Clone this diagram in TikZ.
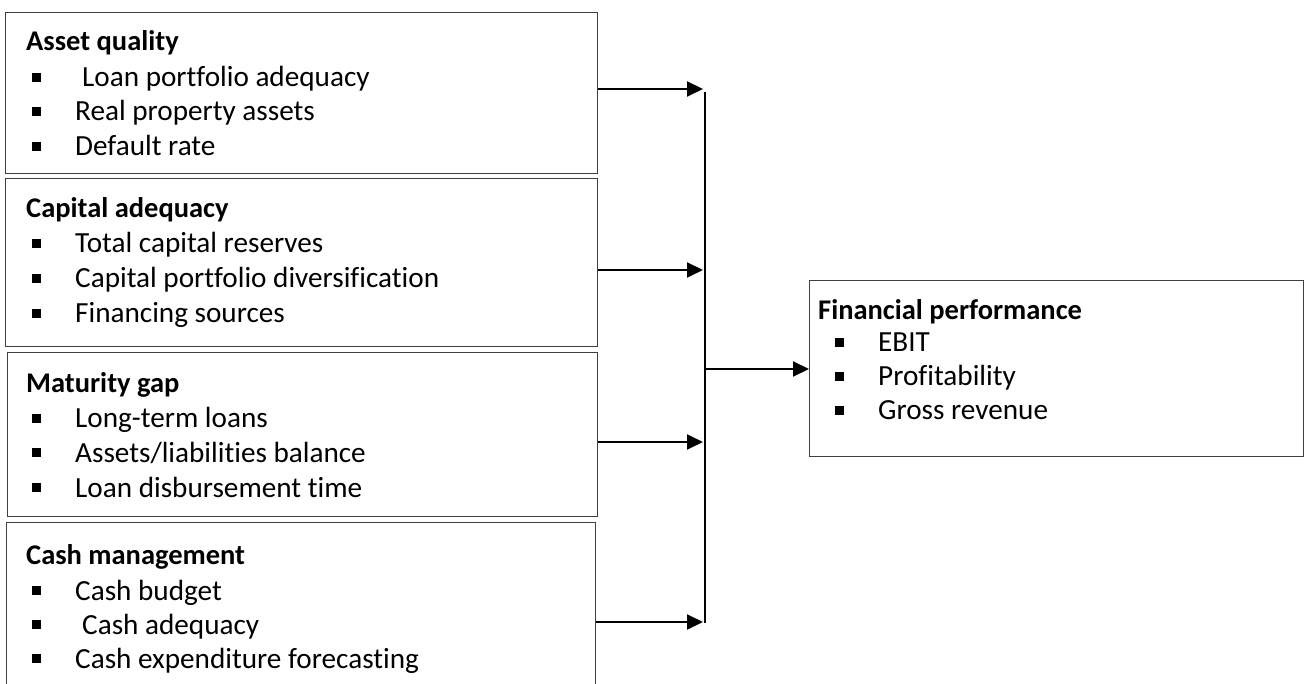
\documentclass[tikz,border=0pt]{standalone}
\usepackage{fontspec}
\setmainfont{Carlito}[Ligatures={NoCommon}]
\usetikzlibrary{arrows.meta}
\tikzset{
  box/.style={draw=black!75, line width=1pt, inner sep=0pt, anchor=north west, fill=white},
  ttl/.style={anchor=base west, inner sep=0pt, font=\bfseries\fontsize{28.5}{34}\selectfont},
  itm/.style={anchor=base west, inner sep=0pt, font=\fontsize{29.2}{34}\selectfont},
  conn/.style={line width=2pt, -{Triangle[length=16pt,width=15pt]}},
  bus/.style={line width=2pt},
}
\newcommand{\bsq}{\makebox[43pt][l]{\rule[5pt]{9pt}{9pt}}}
\begin{document}
\begin{tikzpicture}[x=1pt,y=-1pt]
\useasboundingbox (0,0) rectangle (1304,684);
\clip (0,0) rectangle (1304,684);
% boxes
\node[box, minimum width=592pt, minimum height=161pt] (b1) at (5,12) {};
\node[box, minimum width=592pt, minimum height=168pt] (b2) at (5,178) {};
\node[box, minimum width=590pt, minimum height=164pt] (b3) at (7,352) {};
\node[box, minimum width=589pt, minimum height=200pt] (b4) at (6,522) {};
\node[box, minimum width=494pt, minimum height=176pt] (fp) at (809,280) {};
% box 1
\node[ttl] (t1) at (26,51) {Asset quality};
\node[itm] (i11) at (32,87) {\bsq\hspace{7pt}Loan portfolio adequacy};
\node[itm] (i12) at (32,121) {\bsq Real property assets};
\node[itm] (i13) at (32,156) {\bsq Default rate};
% box 2
\node[ttl] (t2) at (26,218) {Capital adequacy};
\node[itm] (i21) at (32,253) {\bsq Total capital reserves};
\node[itm] (i22) at (32,288) {\bsq Capital portfolio diversification};
\node[itm] (i23) at (32,323) {\bsq Financing sources};
% box 3
\node[ttl] (t3) at (26,393) {Maturity gap};
\node[itm] (i31) at (32,428) {\bsq Long-term loans};
\node[itm] (i32) at (32,462) {\bsq Assets/liabilities balance};
\node[itm] (i33) at (32,497) {\bsq Loan disbursement time};
% box 4
\node[ttl] (t4) at (26,564) {Cash management};
\node[itm] (i41) at (32,600) {\bsq Cash budget};
\node[itm] (i42) at (32,634) {\bsq\hspace{7pt}Cash adequacy};
\node[itm] (i43) at (32,668) {\bsq Cash expenditure forecasting};
% financial performance
\node[ttl] (t5) at (818,320) {Financial performance};
\node[itm] (i51) at (835,352) {\bsq EBIT};
\node[itm] (i52) at (835,386) {\bsq Profitability};
\node[itm] (i53) at (835,420) {\bsq Gross revenue};
% connectors
\coordinate (a1) at (703,89);
\coordinate (a2) at (703,270);
\coordinate (a3) at (703,442);
\coordinate (a4) at (703,622);
\coordinate (bt) at (705,92);
\coordinate (bb) at (705,623);
\coordinate (bm) at (705,369);
\draw[bus] (bt) -- (bb);
\draw[conn] (b1.east |- a1) -- (a1);
\draw[conn] (b2.east |- a2) -- (a2);
\draw[conn] (b3.east |- a3) -- (a3);
\draw[conn] (b4.east |- a4) -- (a4);
\draw[conn] (bm) -- (fp.west |- bm);
\end{tikzpicture}
\end{document}
